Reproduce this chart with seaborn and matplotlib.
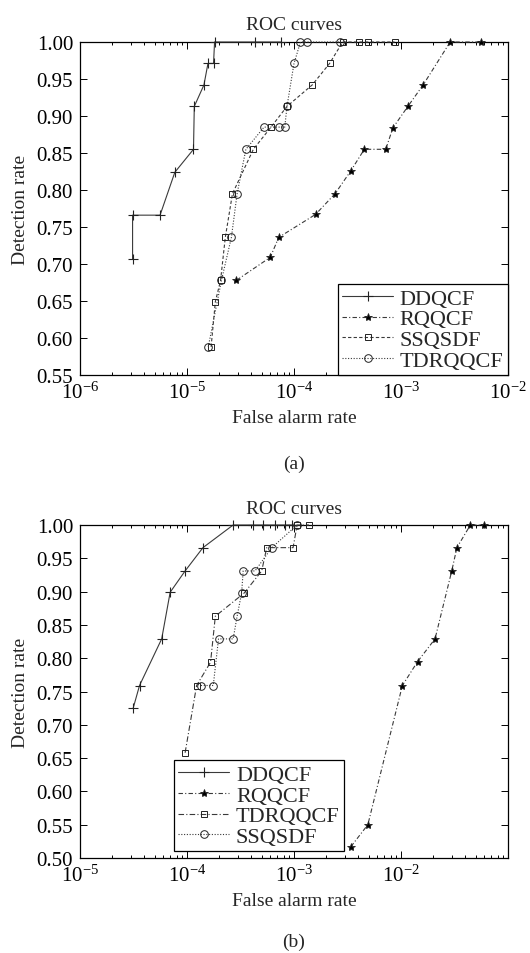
import numpy as np
import pandas as pd
import matplotlib
matplotlib.use("Agg")
import matplotlib.pyplot as plt
from matplotlib.ticker import LogLocator, NullFormatter
import seaborn as sns

# ---- data ----
# (a)
a_ddqcf_far = [3.1e-6, 3.1e-6, 5.6e-6, 7.7e-6, 1.15e-5, 1.17e-5, 1.44e-5, 1.57e-5, 1.77e-5, 1.81e-5, 4.3e-5, 7.5e-5]
a_ddqcf_det = [0.707, 0.766, 0.766, 0.824, 0.855, 0.913, 0.942, 0.971, 0.971, 1.0, 1.0, 1.0]

a_rqqcf_far = [2.9e-5, 6.0e-5, 7.2e-5, 1.59e-4, 2.42e-4, 3.4e-4, 4.54e-4, 7.2e-4, 8.4e-4, 1.16e-3, 1.61e-3, 2.88e-3, 5.6e-3]
a_rqqcf_det = [0.678, 0.709, 0.736, 0.767, 0.795, 0.826, 0.855, 0.855, 0.884, 0.913, 0.942, 1.0, 1.0]

a_ssqsdf_far = [1.68e-5, 1.84e-5, 2.06e-5, 2.28e-5, 2.66e-5, 4.17e-5, 6.1e-5, 8.6e-5, 1.48e-4, 2.15e-4, 2.85e-4, 4.07e-4, 4.9e-4, 8.7e-4]
a_ssqsdf_det = [0.588, 0.649, 0.678, 0.736, 0.795, 0.855, 0.885, 0.913, 0.942, 0.971, 1.0, 1.0, 1.0, 1.0]

a_tdrqqcf_far = [1.58e-5, 2.1e-5, 2.6e-5, 2.94e-5, 3.55e-5, 5.25e-5, 7.2e-5, 8.2e-5, 8.6e-5, 1.0e-4, 1.15e-4, 1.33e-4, 2.7e-4]
a_tdrqqcf_det = [0.588, 0.678, 0.736, 0.795, 0.855, 0.885, 0.885, 0.885, 0.913, 0.971, 1.0, 1.0, 1.0]

# (b)
b_ddqcf_far = [3.14e-5, 3.6e-5, 5.8e-5, 6.96e-5, 9.6e-5, 1.41e-4, 2.7e-4, 4.17e-4, 5.18e-4, 6.67e-4, 8.2e-4, 9.6e-4]
b_ddqcf_det = [0.725, 0.759, 0.829, 0.899, 0.931, 0.966, 1.0, 1.0, 1.0, 1.0, 1.0, 1.0]

b_rqqcf_far = [3.4e-3, 4.9e-3, 1.03e-2, 1.43e-2, 2.08e-2, 2.98e-2, 3.33e-2, 4.45e-2, 6.03e-2]
b_rqqcf_det = [0.517, 0.55, 0.759, 0.795, 0.829, 0.931, 0.966, 1.0, 1.0]

b_tdrqqcf_far = [9.6e-5, 1.23e-4, 1.66e-4, 1.84e-4, 3.43e-4, 4.99e-4, 5.56e-4, 9.8e-4, 1.07e-3, 1.38e-3]
b_tdrqqcf_det = [0.658, 0.759, 0.794, 0.863, 0.898, 0.931, 0.966, 0.966, 1.0, 1.0]

b_ssqsdf_far = [1.35e-4, 1.76e-4, 1.97e-4, 2.7e-4, 2.94e-4, 3.24e-4, 3.35e-4, 4.32e-4, 6.2e-4, 1.07e-3]
b_ssqsdf_det = [0.759, 0.759, 0.829, 0.829, 0.863, 0.898, 0.931, 0.931, 0.966, 1.0]

a_yticks = [0.55, 0.60, 0.65, 0.70, 0.75, 0.80, 0.85, 0.90, 0.95, 1.00]
b_yticks = [0.50, 0.55, 0.60, 0.65, 0.70, 0.75, 0.80, 0.85, 0.90, 0.95, 1.00]

# ---- style ----
sns.set_theme(style="ticks")
plt.rcParams['font.family'] = ['Liberation Serif', 'DejaVu Serif']
plt.rcParams['mathtext.fontset'] = 'stix'
plt.rcParams['axes.edgecolor'] = 'black'
plt.rcParams['axes.linewidth'] = 0.9

LINE = '#3a3a3a'
styles = {
    'DDQCF':   dict(ls='-', marker='+', ms=7, mew=0.8, mfc='none'),
    'RQQCF':   dict(ls=(0, (4, 2, 1, 2)), marker='*', ms=6, mew=0.6, mfc='black'),
    'SSQSDF':  dict(ls=(0, (3, 2)), marker='s', ms=5, mew=0.7, mfc='none'),
    'TDRQQCF': dict(ls=(0, (1, 1.5)), marker='o', ms=5.5, mew=0.7, mfc='none'),
}
# in (b) the square curve is drawn dash-dot, the circle curve dotted
b_styles = dict(styles)
b_styles['TDRQQCF'] = dict(ls=(0, (5, 2, 1, 2)), marker='s', ms=5, mew=0.7, mfc='none')
b_styles['SSQSDF'] = dict(ls=(0, (1, 1.5)), marker='o', ms=5.5, mew=0.7, mfc='none')


def draw(ax, far, det, name, st):
    df = pd.DataFrame({'far': far, 'det': det})
    sns.lineplot(data=df, x='far', y='det', ax=ax, sort=False, estimator=None,
                 color=LINE, lw=0.8, linestyle=st['ls'], marker=st['marker'],
                 markersize=st['ms'], markeredgewidth=st['mew'],
                 markeredgecolor='#222222', markerfacecolor=st['mfc'], label=name,
                 clip_on=False, zorder=3)


def format_axes(ax, xlim, ylim, yticks, xticks):
    ax.set_xscale('log')
    ax.set_xlim(*xlim)
    ax.set_ylim(*ylim)
    ax.set_xticks(xticks)
    ax.xaxis.set_minor_locator(LogLocator(base=10, subs=np.arange(2, 10), numticks=20))
    ax.xaxis.set_minor_formatter(NullFormatter())
    ax.set_yticks(yticks)
    ax.set_yticklabels([f'{v:.2f}' for v in yticks])
    ax.tick_params(which='both', direction='in', top=True, right=True, colors='black',
                   labelsize=15, width=0.7)
    ax.tick_params(which='major', length=5, pad=5)
    ax.tick_params(which='minor', length=2.5)
    ax.set_xlabel('False alarm rate', fontsize=14, labelpad=4)
    ax.set_ylabel('Detection rate', fontsize=14, labelpad=5)
    ax.set_title('ROC curves', fontsize=14, pad=9)
    for s in ax.spines.values():
        s.set_color('black')


W, H = 530, 954
fig = plt.figure(figsize=(W / 100, H / 100), dpi=100)
fig.patch.set_facecolor('white')

ax_a = fig.add_axes([80 / W, 1 - 376 / H, 428 / W, 333 / H])
ax_b = fig.add_axes([80 / W, 1 - 859 / H, 428 / W, 333 / H])

draw(ax_a, a_ddqcf_far, a_ddqcf_det, 'DDQCF', styles['DDQCF'])
draw(ax_a, a_rqqcf_far, a_rqqcf_det, 'RQQCF', styles['RQQCF'])
draw(ax_a, a_ssqsdf_far, a_ssqsdf_det, 'SSQSDF', styles['SSQSDF'])
draw(ax_a, a_tdrqqcf_far, a_tdrqqcf_det, 'TDRQQCF', styles['TDRQQCF'])
format_axes(ax_a, (1e-6, 1e-2), (0.55, 1.0), a_yticks, [1e-6, 1e-5, 1e-4, 1e-3, 1e-2])

draw(ax_b, b_ddqcf_far, b_ddqcf_det, 'DDQCF', b_styles['DDQCF'])
draw(ax_b, b_rqqcf_far, b_rqqcf_det, 'RQQCF', b_styles['RQQCF'])
draw(ax_b, b_tdrqqcf_far, b_tdrqqcf_det, 'TDRQQCF', b_styles['TDRQQCF'])
draw(ax_b, b_ssqsdf_far, b_ssqsdf_det, 'SSQSDF', b_styles['SSQSDF'])
format_axes(ax_b, (1e-5, 1e-1), (0.50, 1.0), b_yticks, [1e-5, 1e-4, 1e-3, 1e-2])

leg_kw = dict(fontsize=16, frameon=True, fancybox=False, framealpha=1, edgecolor='black',
              handlelength=2.3, handletextpad=0.3, labelspacing=0.0, borderpad=0.2,
              borderaxespad=0)
la = ax_a.legend(loc='lower right', **leg_kw)
lb = ax_b.legend(loc='lower left', bbox_to_anchor=(0.219, 0.02), **leg_kw)
for lg in (la, lb):
    lg.get_frame().set_linewidth(0.9)
    lg.set_zorder(5)

fig.text(0.5 * (80 + 508) / W, 1 - 464 / H, '(a)', ha='center', va='center', fontsize=14)
fig.text(0.5 * (80 + 508) / W, 1 - 942 / H, '(b)', ha='center', va='center', fontsize=14)

fig.savefig('out.png', dpi=100)
